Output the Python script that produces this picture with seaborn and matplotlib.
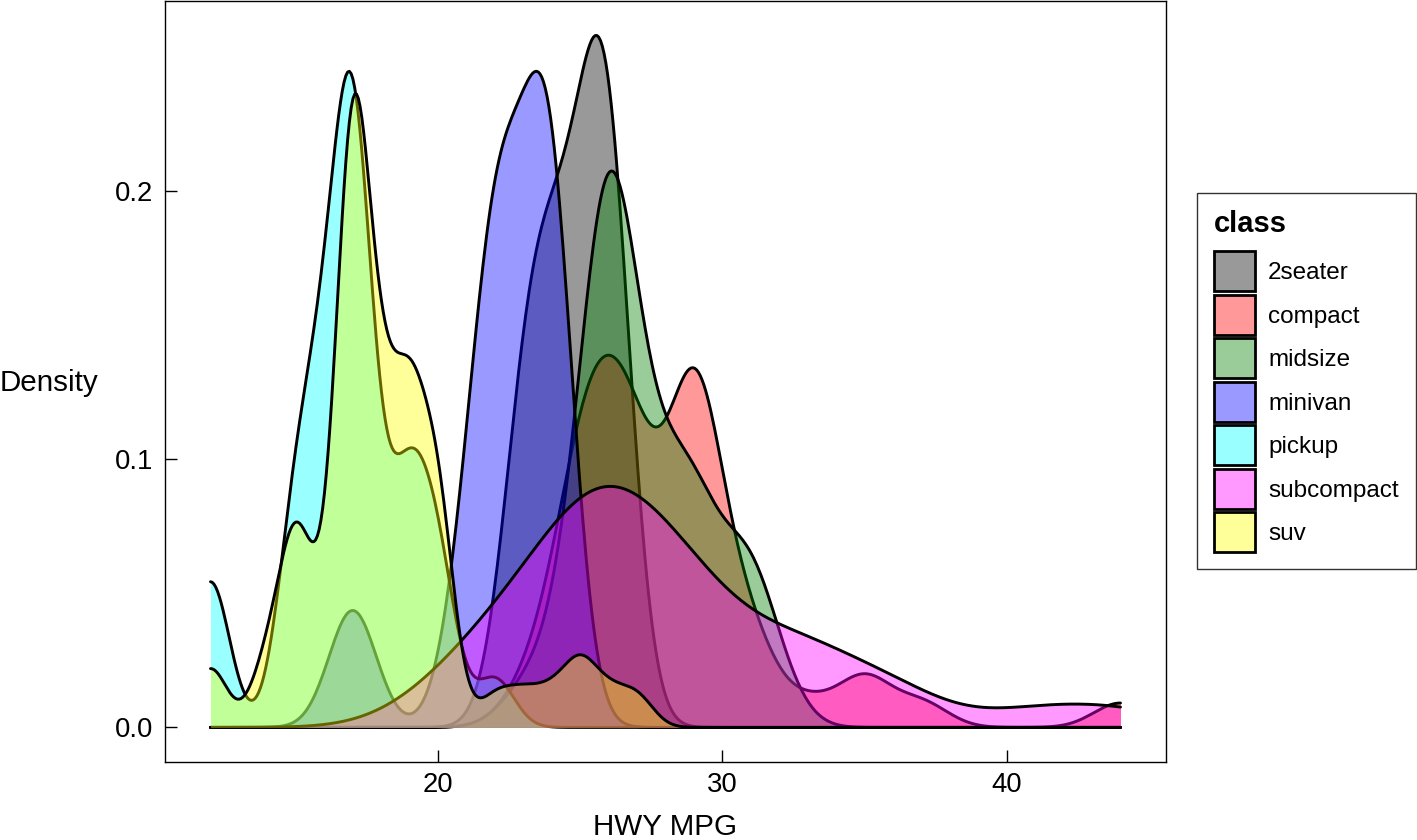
import numpy as np
import matplotlib
matplotlib.use("Agg")
import matplotlib.pyplot as plt
from matplotlib.patches import Patch
from matplotlib.colors import to_rgba
import seaborn as sns

# highway mpg per vehicle class (mpg data set)
classes = ["2seater", "compact", "midsize", "minivan", "pickup", "subcompact", "suv"]

hwy_2seater = [26, 23, 26, 25, 24]
hwy_compact = [29, 29, 31, 30, 26, 26, 27, 26, 25, 28, 27, 25, 25, 25, 25,
               29, 27, 25, 27, 25, 27, 27, 29, 31, 31, 26, 26, 27,
               30, 33, 35, 37, 35, 29, 26, 29, 29, 24,
               44, 29, 26, 29, 29, 29, 29, 23, 24]
hwy_midsize = [24, 25, 23, 27, 30, 26, 29, 26, 26, 27, 30, 31, 26, 26, 28,
               31, 32, 27, 26, 26, 25, 25, 26, 26, 27, 28, 25,
               29, 27, 31, 31, 26, 26, 28, 29, 29, 28, 29, 26, 26, 26]
hwy_minivan = [24, 24, 22, 22, 24, 24, 17, 22, 21, 23, 23]
hwy_pickup = [19, 18, 17, 17, 19, 19, 12, 17, 15, 16, 12, 17, 17, 16, 12, 15,
              16, 17, 15, 17, 17, 16, 16, 17, 15, 17, 20, 20, 22, 17, 19, 18, 20]
hwy_subcompact = [26, 25, 26, 24, 21, 22, 23, 22, 20, 33, 32, 32, 29, 32, 34,
                  36, 36, 29, 26, 29, 28, 27, 24, 24, 24, 26, 26, 26, 26,
                  44, 41, 29, 26, 28, 29]
hwy_suv = [20, 15, 20, 17, 17, 19, 14, 15, 17, 17, 17, 12, 17, 16, 18, 15,
           17, 17, 18, 17, 19, 17, 19, 19, 17, 22, 19, 20, 17, 12, 19, 18, 14,
           15, 18, 18, 15, 17, 16, 18, 17, 19, 19, 17, 17, 17, 20, 18,
           25, 24, 27, 25, 26, 23, 20, 20, 19, 17, 20, 17, 15, 18]

hwy_by_class = [hwy_2seater, hwy_compact, hwy_midsize, hwy_minivan,
                hwy_pickup, hwy_subcompact, hwy_suv]
fill_colors = ["#000000", "#FF0000", "#008000", "#0000FF", "#00FFFF", "#FF00FF", "#FFFF00"]
fill_alpha = 0.4


def nrd0_factor(x):
    # R's bw.nrd0 expressed as a factor of the sample sd (for gaussian_kde)
    x = np.asarray(x, dtype=float)
    sd = x.std(ddof=1)
    q75, q25 = np.percentile(x, [75, 25])
    lo = min(sd, (q75 - q25) / 1.34)
    if lo == 0:
        lo = sd
    bw = 0.9 * lo * len(x) ** -0.2
    return bw / sd


sns.set_theme(style="white")
plt.rcParams["font.family"] = ["Liberation Sans", "DejaVu Sans"]

fig = plt.figure(figsize=(14.17, 8.4), dpi=100)
ax = fig.add_axes([165 / 1417, 1 - 762 / 840, 1001 / 1417, 761.5 / 840])

all_hwy = np.concatenate([np.asarray(v) for v in hwy_by_class])
x_lo, x_hi = all_hwy.min(), all_hwy.max()

for i, (vals, col) in enumerate(zip(hwy_by_class, fill_colors)):
    bwf = nrd0_factor(vals)
    # fill first, then the upper outline, keeping ggplot's drawing order
    sns.kdeplot(x=vals, ax=ax, bw_method=bwf, cut=100, clip=(x_lo, x_hi),
                gridsize=512, fill=True, color=col, alpha=fill_alpha,
                linewidth=0, zorder=2 * i + 1)
    sns.kdeplot(x=vals, ax=ax, bw_method=bwf, cut=100, clip=(x_lo, x_hi),
                gridsize=512, fill=False, color="black", linewidth=2.1,
                zorder=2 * i + 2)

pad = 0.05 * (x_hi - x_lo)
ax.set_xlim(x_lo - pad, x_hi + pad)
ax.set_ylim(-0.0129, 0.2711)
ax.set_xticks([20, 30, 40])
ax.set_yticks([0.0, 0.1, 0.2])
ax.set_yticklabels(["0.0", "0.1", "0.2"])

ax.tick_params(axis="both", direction="in", length=8.3, width=1.0,
               color="black", labelcolor="black", labelsize=19.8)
ax.tick_params(axis="x", pad=7, bottom=True)
ax.tick_params(axis="y", pad=8.5, left=True)
for sp in ax.spines.values():
    sp.set_visible(True)
    sp.set_color("black")
    sp.set_linewidth(1.0)

ax.set_xlabel("HWY MPG", fontsize=21.3, color="black", va="baseline")
ax.xaxis.set_label_coords(0.5, (762 - 835) / 762)
ax.set_ylabel("Density", fontsize=21.3, color="black", rotation=0,
              ha="left", va="center")
ax.yaxis.set_label_coords(-165 / 1001, (762 - 383) / 762)

handles = [Patch(facecolor=to_rgba(c, fill_alpha), edgecolor="black", linewidth=2.0)
           for c in fill_colors]
leg = fig.legend(handles, classes, loc="center left",
                 bbox_to_anchor=(1197 / 1417, 1 - 381 / 840),
                 title="class", frameon=True, fancybox=False,
                 edgecolor="black", fontsize=17.5, labelcolor="black",
                 title_fontproperties={"weight": "bold", "size": 21},
                 alignment="left", handlelength=1.7, handleheight=2.155,
                 labelspacing=0.144, handletextpad=0.52, borderpad=0.7,
                 borderaxespad=0)
leg.get_title().set_color("black")
leg.get_frame().set_linewidth(1.0)
# a bit more room between the title and the keys, as in the reference
leg._legend_box.sep = 10

fig.savefig("out.png", dpi=100)
